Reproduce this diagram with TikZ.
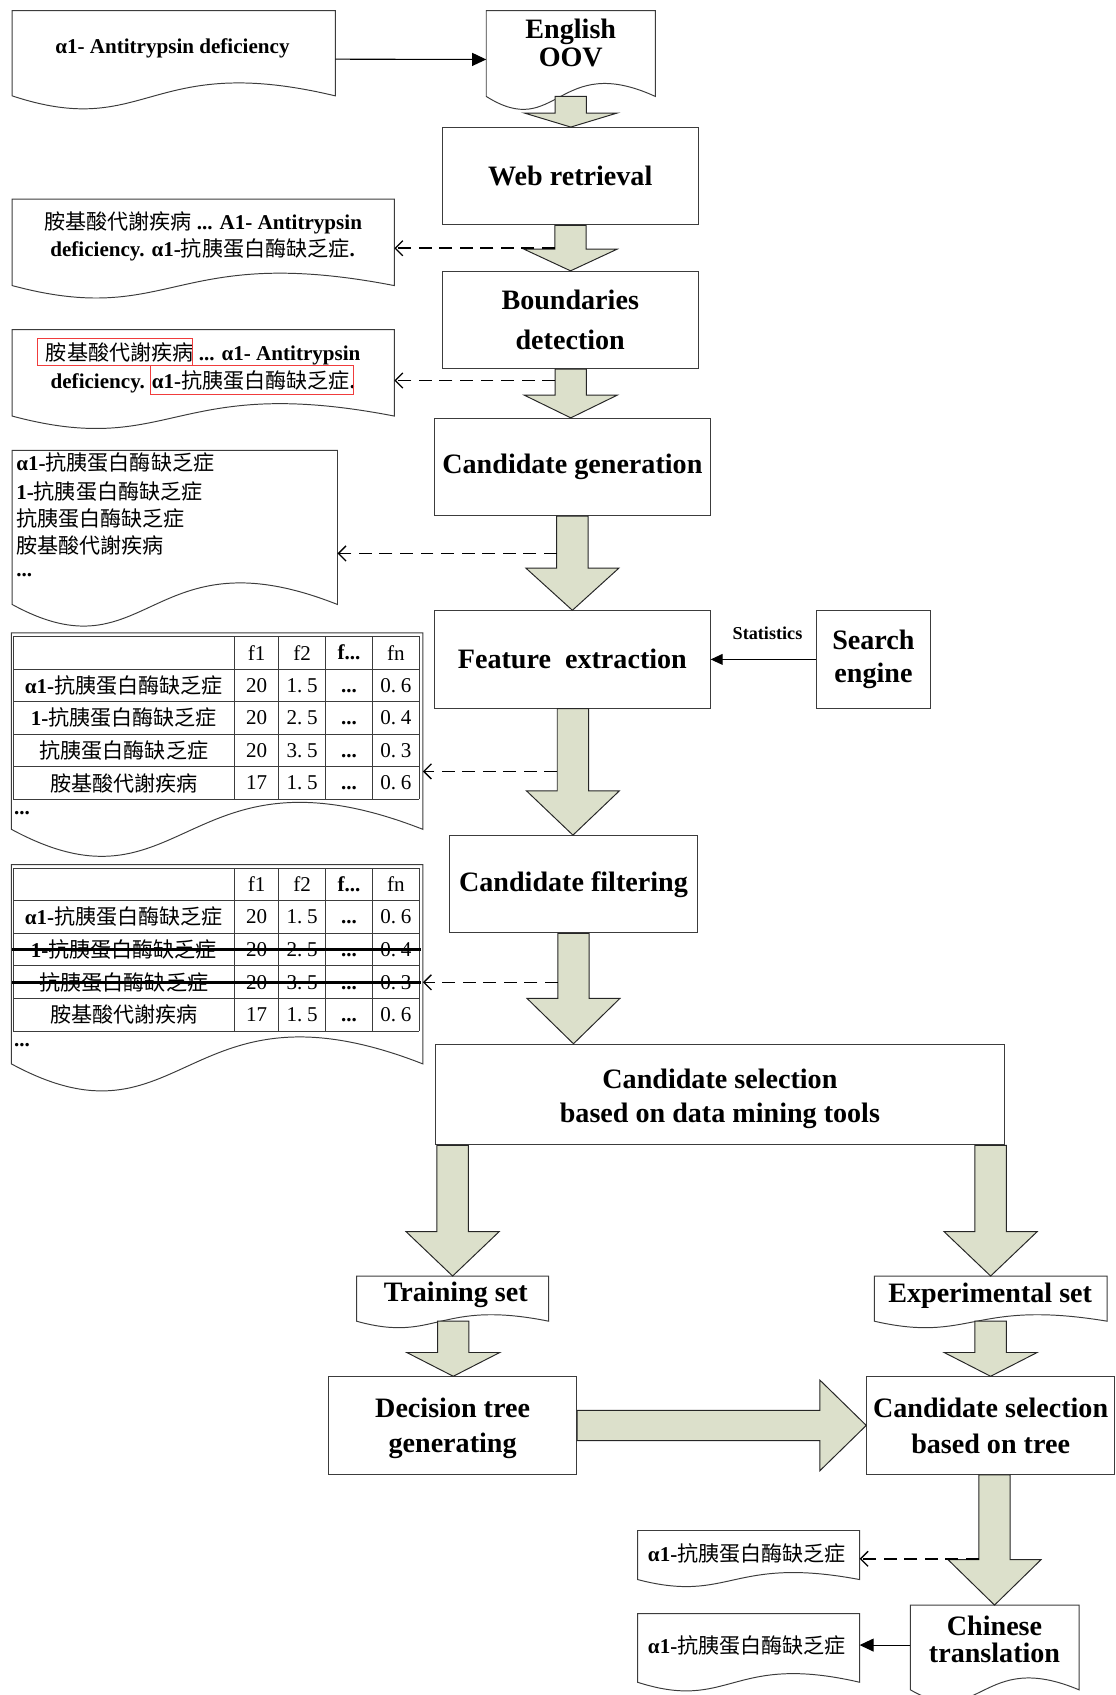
\documentclass[tikz,border=0pt]{standalone}
\usepackage{fontspec}
\setmainfont{Liberation Serif}
\newfontfamily\cjk{Noto Sans CJK SC}
\usetikzlibrary{arrows.meta,calc,fit}

\definecolor{blockfill}{HTML}{DCE0CB}
\definecolor{outline}{HTML}{3C3C3C}
\definecolor{hilite}{HTML}{F03C3C}

\newcommand\zh[1]{{\cjk\mdseries #1}}
\newcommand\decnum[2]{#1.\hspace{0.22em}#2}

\tikzset{
  docframe/.style={inner sep=0pt, draw=none},
  docline/.style={draw=outline, line width=0.9pt, fill=white},
  procbox/.style={draw=outline, line width=0.9pt, fill=white, inner sep=0pt, align=center,
    font=\fontsize{26}{30}\selectfont\bfseries},
  boxtext/.style={inner sep=0pt, align=center, font=\fontsize{26}{30}\selectfont\bfseries},
  doctext/.style={inner sep=0pt, font=\fontsize{19.5}{24}\selectfont\bfseries},
  cell/.style={inner sep=0pt, font=\fontsize{19.5}{24}\selectfont},
  tablerule/.style={draw=outline, line width=0.8pt},
  strike/.style={draw=black, line width=2.6pt},
  hibox/.style={draw=hilite, line width=0.9pt, inner sep=0pt},
  blockarrow/.style={draw=black!85, line width=0.9pt, fill=blockfill, line join=miter},
  dashlink/.style={draw=black, line width=1.5pt, dash pattern=on 12pt off 7pt,
    -{Straight Barb[length=7pt,width=14pt,line width=1.2pt]}},
  solidlink/.style={draw=black, line width=1pt, -{Triangle[length=13pt,width=12pt]}},
  statlabel/.style={inner sep=0pt, font=\fontsize{16.8}{20}\selectfont\bfseries},
}

% document symbol: straight top and sides, wavy bottom (#2 = wave amplitude)
\newcommand\docoutline[2]{%
  \draw[docline] (#1.north west) -- (#1.north east) -- (#1.south east)
    .. controls ($(#1.south west)!0.42!(#1.south east)+(0,-3.46*#2)$)
    and ($(#1.south west)!0.42!(#1.south east)+(0,3.46*#2)$) .. (#1.south west) -- cycle;}

% wide downward block arrow between two nodes
\newcommand\dropblock[4]{% #1 source, #2 target, #3 centre x, #4 head length
  \path[blockarrow] let \p1=(#1.south), \p2=(#2.north) in
    ({#3pt-14.5pt},\y1) -- ({#3pt-14.5pt},{\y2+#4pt}) -- ({#3pt-43pt},{\y2+#4pt})
    -- (#3pt,\y2) -- ({#3pt+43pt},{\y2+#4pt}) -- ({#3pt+14.5pt},{\y2+#4pt})
    -- ({#3pt+14.5pt},\y1) -- cycle;}

% wide rightward block arrow between two nodes
\newcommand\sideblock[4]{% #1 source, #2 target, #3 centre y, #4 head length
  \path[blockarrow] let \p1=(#1.east), \p2=(#2.west), \p3=(0,#3) in
    (\x1,{\y3+14pt}) -- ({\x2-#4pt},{\y3+14pt}) -- ({\x2-#4pt},{\y3+42pt})
    -- (\x2,\y3) -- ({\x2-#4pt},{\y3-42pt}) -- ({\x2-#4pt},{\y3-14pt})
    -- (\x1,{\y3-14pt}) -- cycle;}

% feature table: #1 name prefix, #2 top edge
\newcommand\featuretable[2]{%
  \foreach \k in {0,...,5}
    \draw[tablerule] (12.3,{#2+\k*30.15}) -- (387.8,{#2+\k*30.15});
  \foreach \c in {12.3,217,258,301,344.5,387.8}
    \draw[tablerule] (\c,#2) -- (\c,{#2+150.75});
  \node[cell] (#1-0-2) at (237.5,{#2+15.1}) {\vphantom{0}f1};
  \node[cell] (#1-0-3) at (279.5,{#2+15.1}) {\vphantom{0}f2};
  \node[cell] (#1-0-4) at (322.8,{#2+15.1}) {\vphantom{0}\textbf{f...}};
  \node[cell] (#1-0-5) at (366.2,{#2+15.1}) {\vphantom{0}fn};
  \foreach \k/\lab/\fa/\fb/\fn in {
      1/{\textbf{α1-}\zh{抗胰蛋白酶缺乏症}}/20/{\decnum15}/{\decnum06},
      2/{\textbf{1-}\zh{抗胰蛋白酶缺乏症}}/20/{\decnum25}/{\decnum04},
      3/{\zh{抗胰蛋白酶缺乏症}}/20/{\decnum35}/{\decnum03},
      4/{\zh{胺基酸代謝疾病}}/17/{\decnum15}/{\decnum06}} {
    \node[cell] (#1-\k-1) at (114.6,{#2+15.1+30.15*\k}) {\lab};
    \node[cell] (#1-\k-2) at (237.5,{#2+15.1+30.15*\k}) {\vphantom{0}\fa};
    \node[cell] (#1-\k-3) at (279.5,{#2+15.1+30.15*\k}) {\vphantom{0}\fb};
    \node[cell] (#1-\k-4) at (322.8,{#2+15.1+30.15*\k}) {\vphantom{0}\textbf{...}};
    \node[cell] (#1-\k-5) at (366.2,{#2+15.1+30.15*\k}) {\vphantom{0}\fn};
  }
  \node[doctext, anchor=base west] (#1-more) at (12.8,{#2+165}) {...};
}

\begin{document}
\begin{tikzpicture}[x=1pt,y=-1pt]
\useasboundingbox (0,0) rectangle (1032,1568);

% ---------- document frames ----------
\node[docframe, fit={(11.5,10) (310,88.5)}] (d1) {};
\node[docframe, fit={(450,10) (606,89)}] (oov) {};
\node[docframe, fit={(11.5,184.5) (364.6,264)}] (d2) {};
\node[docframe, fit={(11.5,305.2) (364.6,384.7)}] (d3) {};
\node[docframe, fit={(11.5,416.8) (312,559)}] (d4) {};
\node[docframe, fit={(10.8,585.6) (391,767)}] (d5) {};
\node[docframe, fit={(10.8,800) (391,984)}] (d6) {};
\node[docframe, fit={(330,1180.6) (507.4,1222)}] (tr) {};
\node[docframe, fit={(809,1180.6) (1024,1222)}] (ex) {};
\node[docframe, fit={(590,1416) (795,1461)}] (d7) {};
\node[docframe, fit={(842.4,1485) (998,1563)}] (ch) {};
\node[docframe, fit={(590,1493) (795,1556)}] (d8) {};

\docoutline{d1}{12}
\docoutline{oov}{12}
\docoutline{d2}{11.5}
\docoutline{d3}{11.5}
\docoutline{d4}{20}
\docoutline{d5}{25}
\docoutline{d6}{25}
\docoutline{tr}{6}
\docoutline{ex}{6}
\docoutline{d7}{6.5}
\docoutline{ch}{11}
\docoutline{d8}{8}

% ---------- process boxes ----------
\node[procbox, minimum width=237pt, minimum height=90pt] (web) at (527.5,163) {Web retrieval};
\node[procbox, minimum width=237pt, minimum height=90pt] (bnd) at (527.5,296) {Boundaries\\[7pt]detection};
\node[procbox, minimum width=255pt, minimum height=90pt] (cgen) at (529.5,432) {Candidate generation};
\node[procbox, minimum width=255pt, minimum height=90pt] (feat) at (529.5,610) {Feature\ \ extraction};
\node[procbox, minimum width=229pt, minimum height=90pt] (filt) at (530.5,818) {Candidate filtering};
\node[procbox, minimum width=526pt, minimum height=93pt] (sel) at (666,1012.5)
  {\rule{0pt}{26pt}Candidate selection\\[2pt]based on data mining tools};
\node[procbox, minimum width=106pt, minimum height=90pt] (search) at (808,610) {Search\\[1pt]engine};
\node[procbox, minimum width=229.4pt, minimum height=90.4pt] (dec) at (418.7,1318.8)
  {\rule{0pt}{23pt}Decision tree\\[3pt]generating};
\node[procbox, minimum width=229.2pt, minimum height=90.4pt] (cst) at (916.4,1318.8) {Candidate selection\\[3pt]based on tree};

% ---------- document contents ----------
\node[doctext] (d1t) at (159.5,44.7) {α1- Antitrypsin deficiency};
\node[boxtext] (oovt) at (528,40) {English\\[-4pt]OOV};

\node[doctext] (d2a) at (187.8,206.5) {\zh{胺基酸代謝疾病} ... A1- Antitrypsin};
\node[doctext] (d2b) at (187.4,231.2) {deficiency. α1-\zh{抗胰蛋白酶缺乏症}.};

\node[doctext] (d3a) at (188,327.4) {\zh{胺基酸代謝疾病} ... α1- Antitrypsin};
\node[doctext] (d3b) at (187.7,353) {deficiency. α1-\zh{抗胰蛋白酶缺乏症}.};
\node[hibox, fit={(34.5,313.5) (178,338)}] (mark1) {};
\node[hibox, fit={(139,338) (327,364.5)}] (mark2) {};

\node[doctext, anchor=west] (d4l1) at (14.9,428) {α1-\zh{抗胰蛋白酶缺乏症}};
\node[doctext, anchor=west] (d4l2) at (14.9,454.5) {1-\zh{抗胰蛋白酶缺乏症}};
\node[doctext, anchor=west] (d4l3) at (14.9,479.5) {\zh{抗胰蛋白酶缺乏症}};
\node[doctext, anchor=west] (d4l4) at (14.9,504.5) {\zh{胺基酸代謝疾病}};
\node[doctext, anchor=base west] (d4l5) at (14.9,533.4) {...};

\featuretable{ta}{588.7}
\featuretable{tb}{803}
\draw[strike] (11,{803+15.1+60.3}) -- (389,{803+15.1+60.3});
\draw[strike] (11,{803+15.1+90.45}) -- (389,{803+15.1+90.45});

\node[boxtext] (trt) at (421.6,1197.5) {Training set};
\node[boxtext] (ext) at (916,1199) {Experimental set};
\node[doctext] (d7t) at (691,1437) {α1-\zh{抗胰蛋白酶缺乏症}};
\node[boxtext] (cht) at (920,1516.5) {Chinese\\[-5pt]translation};
\node[doctext] (d8t) at (691,1521.8) {α1-\zh{抗胰蛋白酶缺乏症}};

% ---------- block arrows ----------
\dropblock{oov}{web}{528}{13}
\dropblock{web}{bnd}{527.8}{20}
\dropblock{bnd}{cgen}{528}{21}
\dropblock{cgen}{feat}{529.5}{39}
\dropblock{feat}{filt}{530}{41}
\dropblock{filt}{sel}{530.5}{42}
\dropblock{sel}{tr}{418.7}{41}
\dropblock{sel}{ex}{916.4}{41}
\dropblock{tr}{dec}{419.3}{22}
\dropblock{ex}{cst}{916.4}{22}
\dropblock{cst}{ch}{920}{42}
\sideblock{dec}{cst}{1318.6}{43}

% ---------- connectors ----------
\draw[solidlink] ($(d1.east)+(0,5.5)$) -- ($(oov.west)+(0,5.5)$);
\draw[solidlink, -{Triangle[length=11pt,width=10pt]}] (search.west) -- (feat.east);
\node[statlabel] (statlbl) at (710,585.6) {Statistics};
\draw[solidlink] (ch.west |- d8t) -- (d8.east |- d8t);

\coordinate (s1) at (513.3,229.6);
\coordinate (s2) at (513.5,352);
\coordinate (s3) at (515,512);
\coordinate (s4) at (515.5,713.6);
\coordinate (s5) at (516,908.7);
\coordinate (s6) at (905.5,1442);
\draw[dashlink] (s1) -- (s1 -| d2.east);
\draw[dashlink] (s2) -- (s2 -| d3.east);
\draw[dashlink] (s3) -- (s3 -| d4.east);
\draw[dashlink] (s4) -- (s4 -| d5.east);
\draw[dashlink] (s5) -- (s5 -| d6.east);
\draw[dashlink] (s6) -- (s6 -| d7.east);
\end{tikzpicture}
\end{document}
